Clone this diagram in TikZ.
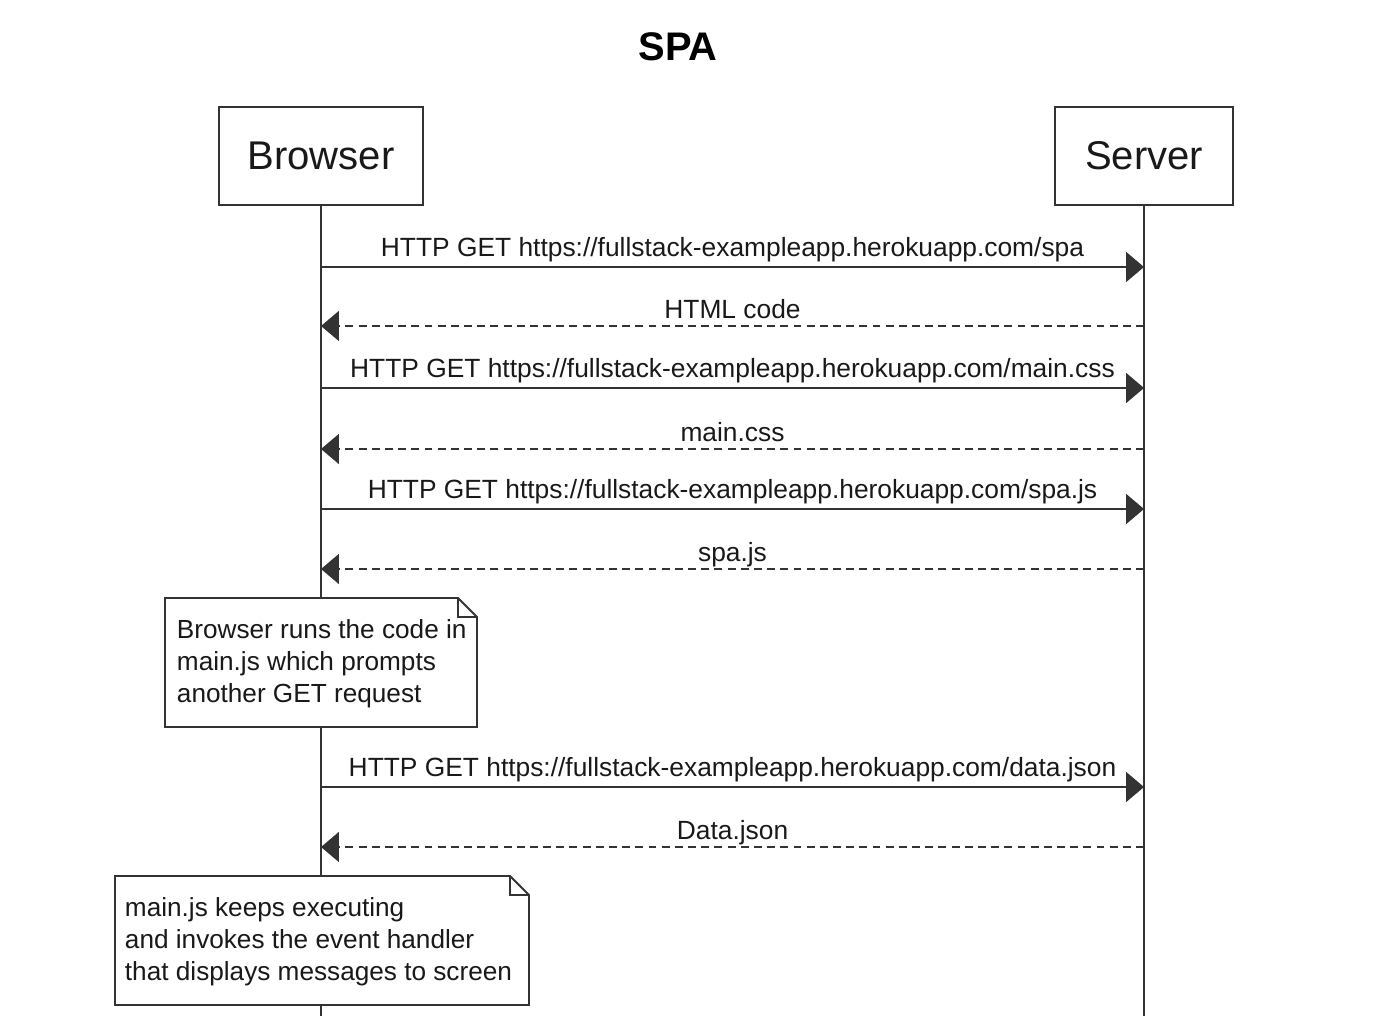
\documentclass[tikz,border=0pt]{standalone}
\usepackage{fontspec}
\setmainfont{Liberation Sans}
\usetikzlibrary{arrows.meta,positioning}
\newcommand\herokuurl{https://fullstack-exampleapp.herokuapp.com/}

\begin{document}
\begin{tikzpicture}[x=0.02cm,y=-0.02cm,line width=1.1pt,
    actor/.style={draw=black!80,text=black!90,minimum height=1.96cm,
        font=\fontsize{22.8pt}{26pt}\selectfont},
    request/.style={draw=black!80,-{Triangle[length=10.2pt,width=17pt]}},
    reply/.style={request,dash pattern=on 4.5pt off 3pt},
    msg label/.style={anchor=base,inner sep=0pt,text=black!90,
        font=\fontsize{15pt}{18pt}\selectfont},
    note text/.style={anchor=base west,inner sep=0pt,align=left,text=black!90,
        font=\fontsize{14.9pt}{18.1pt}\selectfont},
    note/.style={draw=black!80,fill=white,line join=miter}]
    %\draw[help lines,step=50] (0,0) grid (1378,1016);
    \useasboundingbox (0,0) rectangle (1378,1016);
    \node (title) [font=\fontsize{22.7pt}{26pt}\selectfont\bfseries] at (678,47) {SPA};
    \node (browser) [actor,minimum width=4.08cm] at (321,156) {Browser};
    \node (server) [actor,minimum width=3.56cm] at (1144,156) {Server};
    % lifelines run off the bottom edge
    \coordinate (browser end) at (browser.south |- 0,1016);
    \coordinate (server end) at (server.south |- 0,1016);
    \draw[draw=black!80] (browser) -- (browser end);
    \draw[draw=black!80] (server) -- (server end);

    \foreach \y/\target [count=\i] in {267/spa,388/main.css,509/spa.js,787/data.json}{
        \coordinate (get\i) at (browser.south |- 0,\y);
        \coordinate (got\i) at (server.south |- 0,\y);
        \draw[request] (get\i) -- (got\i)
            node [midway,msg label,yshift=5.7pt] (get label\i) {HTTP GET \herokuurl\target};
    }
    \foreach \y/\answer [count=\i] in {326/HTML code,449/main.css,569/spa.js,847/Data.json}{
        \coordinate (sent\i) at (server.south |- 0,\y);
        \coordinate (back\i) at (browser.south |- 0,\y);
        \draw[reply] (sent\i) -- (back\i)
            node [midway,msg label,yshift=4.5pt] (reply label\i) {\answer};
    }

    % notes with a folded corner (text node sits on its last line)
    \draw[note] (165,598) -- (458,598) -- (477,617) -- (477,727) -- (165,727) -- cycle;
    \draw[draw=black!80] (458,598) -- (458,617) -- (477,617);
    \node (run note) [note text] at (176,702)
        {Browser runs the code in\\main.js which prompts\\another GET request};
    \draw[note] (115,876) -- (510,876) -- (529,895) -- (529,1005) -- (115,1005) -- cycle;
    \draw[draw=black!80] (510,876) -- (510,895) -- (529,895);
    \node (exec note) [note text] at (124,980)
        {main.js keeps executing\\and invokes the event handler\\that displays messages to screen};
\end{tikzpicture}
\end{document}
